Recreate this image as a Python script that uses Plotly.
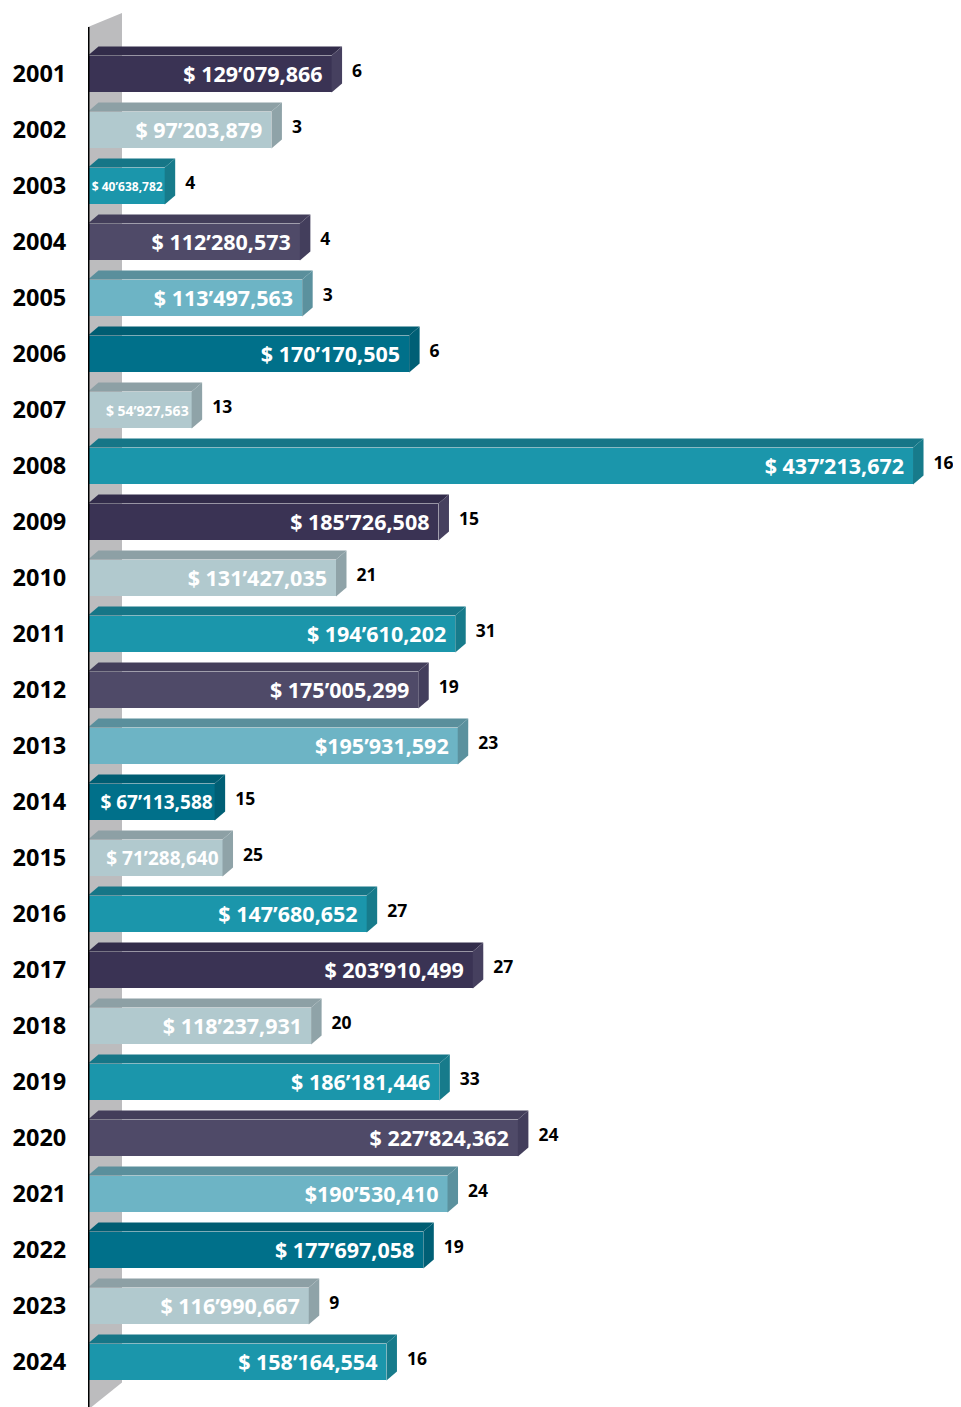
import plotly.graph_objects as go

# ---------------- data ----------------
years = ["2001", "2002", "2003", "2004", "2005", "2006", "2007", "2008", "2009", "2010",
         "2011", "2012", "2013", "2014", "2015", "2016", "2017", "2018", "2019", "2020",
         "2021", "2022", "2023", "2024"]
values = [129079866, 97203879, 40638782, 112280573, 113497563, 170170505, 54927563,
          437213672, 185726508, 131427035, 194610202, 175005299, 195931592, 67113588,
          71288640, 147680652, 203910499, 118237931, 186181446, 227824362, 190530410,
          177697058, 116990667, 158164554]
counts = [6, 3, 4, 4, 3, 6, 13, 16, 15, 21, 31, 19, 23, 15, 25, 27, 27, 20, 33, 24, 24, 19, 9, 16]
value_labels = ["$ 129’079,866", "$ 97’203,879", "$ 40’638,782", "$ 112’280,573",
                "$ 113’497,563", "$ 170’170,505", "$ 54’927,563", "$ 437’213,672",
                "$ 185’726,508", "$ 131’427,035", "$ 194’610,202", "$ 175’005,299",
                "$195’931,592", "$ 67’113,588", "$ 71’288,640", "$ 147’680,652",
                "$ 203’910,499", "$ 118’237,931", "$ 186’181,446", "$ 227’824,362",
                "$190’530,410", "$ 177’697,058", "$ 116’990,667", "$ 158’164,554"]
styles = ["navy", "light", "teal", "purple", "lteal", "dteal", "light", "teal"] * 3

# ---------------- styling ----------------
palette = {  # front, top, side
    "navy":   ("#3a3354", "#322c4a", "#46405f"),
    "light":  ("#b1c9ce", "#8da0a5", "#8fa3a8"),
    "teal":   ("#1b96ab", "#167687", "#177b8b"),
    "purple": ("#4f4a68", "#433e5a", "#433e5c"),
    "lteal":  ("#6db4c5", "#5a8f9c", "#5b919e"),
    "dteal":  ("#00708a", "#005d72", "#005f75"),
}
label_sizes = [21.5, 21.5, 12, 21.5, 21.5, 21.5, 14, 21.5, 21.5, 21.5, 21.5, 21.5, 21.5,
               19, 19, 21.5, 21.5, 21.5, 21.5, 21.5, 21.5, 21.5, 21.5, 21.5]
label_pads_px = [9, 9, 2, 9, 9, 9, 3, 9, 9, 9, 9, 9, 9, 2, 4, 9, 9, 9, 9, 9, 9, 9, 9, 9]

PAGE_OFF = 8              # default body margin of the html page
W, H = 961 - PAGE_OFF, 1407 - PAGE_OFF
ML = 88 - PAGE_OFF
PX_PER_M = 1.887          # pixels per million
ROW = 56.0                # pixels per row
FIRST = 74.0 - PAGE_OFF   # pixel centre of first row (figure coords)
XMAX = (W - ML) / PX_PER_M
Y_TOP = (0 - FIRST) / ROW
Y_BOT = (H - FIRST) / ROW

half = 0.33               # half bar thickness (row units)
dx = 10.5 / PX_PER_M      # depth, x (millions)
dy = 9.0 / ROW            # depth, y (rows)

vals_m = [v / 1e6 for v in values]
idx = list(range(len(years)))

fig = go.Figure()

# back wall (below traces)
wall_w = 34 / PX_PER_M
wall_top_l = (27 - PAGE_OFF - FIRST) / ROW
wall_top_r = (13 - PAGE_OFF - FIRST) / ROW
wall_bot_r = idx[-1] + half + 2 / ROW
wall_path = (f"M 0,{wall_top_l} L {wall_w},{wall_top_r} L {wall_w},{wall_bot_r} "
             f"L 0,{Y_BOT + 0.05} Z")
fig.add_shape(type="path", path=wall_path, xref="x", yref="y",
              fillcolor="#bcbcbe", line=dict(width=0), layer="below")

# 3D faces
for i, v, s in zip(idx, vals_m, styles):
    front, top, side = palette[s]
    ft, fb = i - half, i + half
    fig.add_trace(go.Scatter(
        x=[0, dx, v + dx, v, 0], y=[ft, ft - dy, ft - dy, ft, ft],
        fill="toself", fillcolor=top, line=dict(width=0), mode="lines",
        hoverinfo="skip", showlegend=False))
    fig.add_trace(go.Scatter(
        x=[v, v + dx, v + dx, v, v], y=[ft, ft - dy, fb - dy, fb, ft],
        fill="toself", fillcolor=side, line=dict(width=0), mode="lines",
        hoverinfo="skip", showlegend=False))

# front faces
fig.add_trace(go.Bar(
    x=vals_m, y=idx, orientation="h", width=2 * half,
    marker=dict(color=[palette[s][0] for s in styles], line=dict(width=0)),
    hoverinfo="skip", showlegend=False))

# value labels inside bars
fig.add_trace(go.Scatter(
    x=[v - p / PX_PER_M for v, p in zip(vals_m, label_pads_px)],
    y=[i + 0.04 for i in idx], mode="text",
    text=value_labels, textposition="middle left",
    textfont=dict(family="Open Sans", size=label_sizes, color="white", weight="bold"),
    hoverinfo="skip", showlegend=False, cliponaxis=False))

# count labels
fig.add_trace(go.Scatter(
    x=[v + dx + 10 / PX_PER_M for v in vals_m], y=[i - 0.02 for i in idx], mode="text",
    text=[str(c) for c in counts], textposition="middle right",
    textfont=dict(family="Open Sans", size=17.5, color="black", weight="bold"),
    hoverinfo="skip", showlegend=False, cliponaxis=False))

# axis line
fig.add_shape(type="line", x0=0, x1=0, y0=wall_top_l, y1=Y_BOT + 0.05,
              xref="x", yref="y", line=dict(color="black", width=3), layer="above")

fig.update_layout(
    width=W, height=H,
    margin=dict(l=ML, r=0, t=0, b=0),
    plot_bgcolor="white", paper_bgcolor="white",
    bargap=0,
    xaxis=dict(range=[0, XMAX], visible=False, fixedrange=True),
    yaxis=dict(range=[Y_BOT, Y_TOP], autorange=False, tickmode="array",
               tickvals=idx, ticktext=years, showgrid=False, zeroline=False,
               ticks="outside", ticklen=16, tickcolor="rgba(0,0,0,0)",
               tickfont=dict(family="Open Sans", size=23.5, color="black", weight="bold"),
               showline=False, fixedrange=True),
)

fig.write_html("out.html")
